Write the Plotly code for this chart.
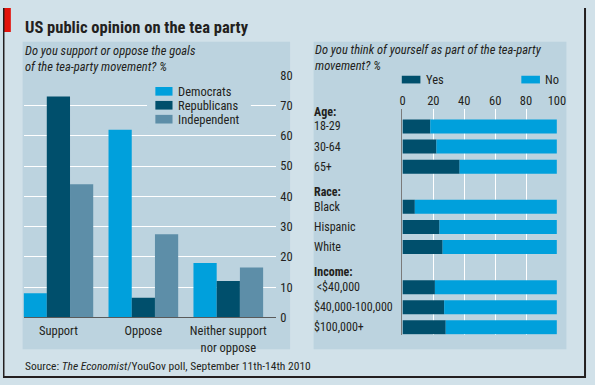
import plotly.graph_objects as go

# ---------------- data ----------------
stances = ["Support", "Oppose", "Neither support<br>nor oppose"]
democrats = [8, 62, 18]
republicans = [73, 6.5, 12]
independent = [44, 27.5, 16.5]
left_ticks = [0, 10, 20, 30, 40, 50, 60, 70, 80]

groups = ["18-29", "30-64", "65+", "Black", "Hispanic", "White",
          " <$40,000", "$40,000-100,000", "$100,000+"]
slots = [0, 1, 2, 4, 5, 6, 8, 9, 10]
headers = ["Age:", "Race:", "Income:"]
header_slots = [-0.74, 3.27, 7.24]
yes = [18, 22, 37, 8, 24, 26, 21, 27, 28]
no = [82, 78, 63, 92, 76, 74, 79, 73, 72]
right_ticks = [0, 20, 40, 60, 80, 100]

# ---------------- style ----------------
W, H = 595, 385
FONT = "Liberation Sans Narrow, Roboto Condensed, Liberation Sans, sans-serif"
TXT = "#231f20"
BG = "#d1e1e9"
PANEL = "#bcd3df"
C_DEM = "#00a0dc"
C_REP = "#004f6c"
C_IND = "#5d8ea8"
RED = "#e3120b"


def px(x):
    return x / W


def py(y):
    return 1 - y / H


fig = go.Figure()

fig.add_trace(go.Bar(x=stances, y=democrats, name="Democrats", marker_color=C_DEM,
                     marker_line_width=0, xaxis="x", yaxis="y"))
fig.add_trace(go.Bar(x=stances, y=republicans, name="Republicans", marker_color=C_REP,
                     marker_line_width=0, xaxis="x", yaxis="y"))
fig.add_trace(go.Bar(x=stances, y=independent, name="Independent", marker_color=C_IND,
                     marker_line_width=0, xaxis="x", yaxis="y"))

fig.add_trace(go.Bar(y=slots, x=yes, orientation="h", name="Yes", marker_color=C_REP,
                     marker_line_width=0, width=0.7, offsetgroup="r",
                     xaxis="x2", yaxis="y2"))
fig.add_trace(go.Bar(y=slots, x=no, base=yes, orientation="h", name="No", marker_color=C_DEM,
                     marker_line_width=0, width=0.7, offsetgroup="r",
                     xaxis="x2", yaxis="y2"))

shapes = [
    # panels
    dict(type="rect", xref="paper", yref="paper", x0=px(20), x1=px(293), y0=py(355), y1=py(35),
         fillcolor=PANEL, line_width=0, layer="below"),
    dict(type="rect", xref="paper", yref="paper", x0=px(317), x1=px(575), y0=py(355), y1=py(35),
         fillcolor=PANEL, line_width=0, layer="below"),
    # red tab
    dict(type="rect", xref="paper", yref="paper", x0=px(1), x1=px(8), y0=py(25), y1=py(0),
         fillcolor=RED, line_width=0, layer="above"),
    # frame
    dict(type="line", xref="paper", yref="paper", x0=px(0.75), x1=px(0.75), y0=0, y1=1,
         line=dict(color=TXT, width=1.5), layer="above"),
    dict(type="line", xref="paper", yref="paper", x0=px(594), x1=px(594), y0=0, y1=1,
         line=dict(color=TXT, width=2), layer="above"),
    dict(type="line", xref="paper", yref="paper", x0=0, x1=1, y0=py(384), y1=py(384),
         line=dict(color=TXT, width=2), layer="above"),
    # left legend background
    dict(type="rect", xref="paper", yref="paper", x0=px(147), x1=px(253), y0=py(124), y1=py(76),
         fillcolor=PANEL, line_width=0, layer="above"),
]

annotations = [
    dict(text="<b>US public opinion on the tea party</b>", x=px(20), y=py(20.5), xref="paper",
         yref="paper", xanchor="left", yanchor="middle", showarrow=False,
         font=dict(size=16.5, color=TXT, family=FONT)),
    dict(text="<i>Do you support or oppose the goals<br>of the tea-party movement? %</i>",
         x=px(20), y=py(34), xref="paper", yref="paper", xanchor="left", yanchor="top",
         align="left", showarrow=False, font=dict(size=12.5, color=TXT, family=FONT)),
    dict(text="<i>Do you think of yourself as part of the tea-party<br>movement? %</i>",
         x=px(316), y=py(33), xref="paper", yref="paper", xanchor="left", yanchor="top",
         align="left", showarrow=False, font=dict(size=12.5, color=TXT, family=FONT)),
    dict(text="Source: <i>The Economist</i>/YouGov poll, September 11th-14th 2010",
         x=px(20), y=py(372.5), xref="paper", yref="paper", xanchor="left", yanchor="middle",
         showarrow=False, font=dict(size=11.5, color=TXT, family=FONT)),
]

# left legend
for i, (nm, col) in enumerate([("Democrats", C_DEM), ("Republicans", C_REP), ("Independent", C_IND)]):
    yc = 86.7 + 14.5 * i
    shapes.append(dict(type="rect", xref="paper", yref="paper", x0=px(155.5), x1=px(173),
                       y0=py(yc + 4.5), y1=py(yc - 4.5), fillcolor=col, line_width=0, layer="above"))
    annotations.append(dict(text=nm, x=px(176.5), y=py(yc), xref="paper", yref="paper",
                            xanchor="left", yanchor="middle", showarrow=False,
                            font=dict(size=12.5, color=TXT, family=FONT)))

# right legend
for nm, col, x0 in [("Yes", C_REP, 407), ("No", C_DEM, 529)]:
    yc = 74.5
    shapes.append(dict(type="rect", xref="paper", yref="paper", x0=px(x0), x1=px(x0 + 19),
                       y0=py(yc + 4), y1=py(yc - 4), fillcolor=col, line_width=0, layer="above"))
    annotations.append(dict(text=nm, x=px(x0 + 22.5), y=py(yc), xref="paper", yref="paper",
                            xanchor="left", yanchor="middle", showarrow=False,
                            font=dict(size=12.5, color=TXT, family=FONT)))

# right row labels and headers
for g, s in zip(groups, slots):
    annotations.append(dict(text=g, x=px(316.5), y=s, xref="paper", yref="y2",
                            xanchor="left", yanchor="middle", showarrow=False, borderpad=0,
                            font=dict(size=12, color=TXT, family=FONT)))
for h, s in zip(headers, header_slots):
    annotations.append(dict(text="<b>" + h + "</b>", x=px(316.5), y=s, xref="paper", yref="y2",
                            xanchor="left", yanchor="middle", showarrow=False, borderpad=0,
                            font=dict(size=12, color=TXT, family=FONT)))

fig.update_layout(
    width=W, height=H,
    margin=dict(l=0, r=0, t=0, b=0),
    paper_bgcolor=BG, plot_bgcolor="rgba(0,0,0,0)",
    barmode="group", bargap=0.18, bargroupgap=0,
    showlegend=False,
    font=dict(family=FONT, color=TXT, size=12.5),
    xaxis=dict(domain=[px(21), px(279)], range=[-0.41, 2.566], showgrid=False,
               showline=True, linecolor="#5a5a5a", linewidth=1, ticks="",
               ticklabelstandoff=2,
               tickfont=dict(size=12.5, color=TXT, family=FONT), anchor="y"),
    yaxis=dict(domain=[py(322), py(70)], range=[0, 80], side="right", tickvals=left_ticks,
               showgrid=True, gridcolor="white", gridwidth=1.2, zeroline=False,
               ticks="", ticklabelstandoff=3,
               tickfont=dict(size=12.5, color=TXT, family=FONT), anchor="x"),
    xaxis2=dict(domain=[px(407.7), px(565.3)], range=[0, 100], side="top", tickvals=right_ticks,
                showgrid=True, gridcolor="white", gridwidth=1.2, zeroline=False, ticks="",
                tickfont=dict(size=12.5, color=TXT, family=FONT), anchor="y2"),
    yaxis2=dict(domain=[py(340), py(105)], range=[10.37, -0.876], showgrid=False,
                showticklabels=False, zeroline=False, showline=True, linecolor="#7a7a7a",
                linewidth=1.2, anchor="x2"),
    shapes=shapes,
    annotations=annotations,
)

fig.write_html(
    "out.html",
    config={"displayModeBar": False},
    post_script="document.body.style.margin='0';document.body.style.padding='0';"
                "document.body.style.overflow='hidden';",
)
